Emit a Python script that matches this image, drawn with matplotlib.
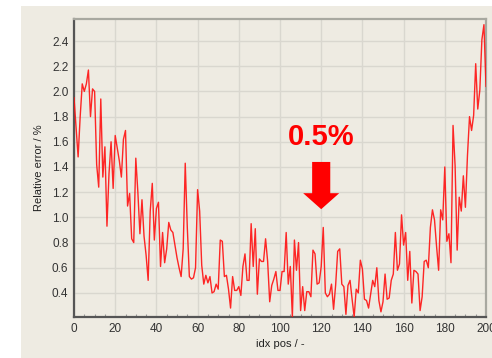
import matplotlib
matplotlib.use('Agg')
import matplotlib.pyplot as plt
from matplotlib.ticker import MultipleLocator, FormatStrFormatter
import numpy as np

XSIZE, YSIZE = 4.92, 3.58
PANEL = '#eeebe2'

# relative error per index position
err = [
    1.95, 1.72, 1.48, 1.80, 2.06, 2.00, 2.06, 2.17, 1.80, 2.02,
    2.00, 1.42, 1.24, 1.94, 1.32, 1.56, 0.93, 1.35, 1.60, 1.23,
    1.65, 1.55, 1.45, 1.32, 1.62, 1.69, 1.09, 1.19, 0.83, 0.80,
    1.47, 1.20, 0.87, 1.14, 0.85, 0.70, 0.50, 1.05, 1.27, 0.82,
    1.07, 1.12, 0.61, 0.88, 0.64, 0.75, 0.96, 0.90, 0.88, 0.78,
    0.68, 0.60, 0.53, 0.75, 1.43, 0.92, 0.53, 0.51, 0.52, 0.60,
    1.22, 1.05, 0.62, 0.47, 0.54, 0.48, 0.53, 0.40, 0.41, 0.47,
    0.43, 0.82, 0.81, 0.53, 0.54, 0.43, 0.28, 0.53, 0.42, 0.42,
    0.45, 0.38, 0.61, 0.71, 0.50, 0.50, 0.95, 0.61, 0.91, 0.39,
    0.67, 0.65, 0.65, 0.83, 0.65, 0.33, 0.46, 0.51, 0.57, 0.42,
    0.42, 0.57, 0.57, 0.88, 0.47, 0.61, 0.21, 0.82, 0.58, 0.80,
    0.26, 0.45, 0.26, 0.41, 0.41, 0.37, 0.74, 0.71, 0.47, 0.48,
    0.61, 0.92, 0.40, 0.37, 0.39, 0.47, 0.27, 0.46, 0.73, 0.75,
    0.47, 0.45, 0.23, 0.46, 0.50, 0.35, 0.21, 0.43, 0.40, 0.66,
    0.59, 0.35, 0.34, 0.28, 0.39, 0.50, 0.45, 0.60, 0.34, 0.25,
    0.33, 0.55, 0.35, 0.36, 0.50, 0.55, 0.88, 0.58, 0.63, 1.02,
    0.78, 0.88, 0.50, 0.73, 0.32, 0.58, 0.57, 0.55, 0.26, 0.37,
    0.65, 0.66, 0.60, 0.92, 1.06, 0.98, 0.77, 0.58, 1.06, 0.98,
    1.40, 0.81, 0.87, 0.64, 1.73, 1.41, 0.74, 1.16, 1.05, 1.33,
    1.08, 1.49, 1.80, 1.69, 1.81, 2.22, 1.86, 2.01, 2.41, 2.53,
    2.04,
]
idx = np.arange(len(err))

# marked position and its label
mark_idx = 120
mark_text = '0.5%'

plt.rcParams['font.family'] = ['Liberation Sans', 'DejaVu Sans']

fig = plt.figure(figsize=(XSIZE, YSIZE), dpi=100)
fig.patch.set_facecolor('white')

# beige panel behind the plot
panel = fig.add_axes([21 / 492, 0, 1 - 21 / 492, 1 - 6 / 358], zorder=-10)
panel.set_facecolor(PANEL)
panel.set_xticks([])
panel.set_yticks([])
for s in panel.spines.values():
    s.set_visible(False)

ax = fig.add_axes([74 / 492, 1 - 317 / 358, 412 / 492, 298 / 358])
ax.set_facecolor(PANEL)

ax.plot(idx, err, color='#ff1010', lw=1.0, alpha=0.9, zorder=3)

ax.set_xlim(0, 200)
ax.set_ylim(0.209, 2.575)
ax.xaxis.set_major_locator(MultipleLocator(20))
ax.xaxis.set_minor_locator(MultipleLocator(5))
ax.set_yticks(np.arange(0.4, 2.41, 0.2))
ax.yaxis.set_major_formatter(FormatStrFormatter('%.1f'))

ax.grid(which='major', color='#d9d7cf', lw=1.0)
ax.set_axisbelow(True)
ax.tick_params(which='major', length=0, labelsize=8.5, labelcolor='#333333', pad=4)
ax.tick_params(axis='x', which='minor', direction='in', length=2,
               color='#999999', width=0.8)
ax.tick_params(axis='y', which='minor', length=0)

for side in ('left', 'bottom'):
    ax.spines[side].set_color('#555555')
    ax.spines[side].set_linewidth(1.6)
for side in ('top', 'right'):
    ax.spines[side].set_color('#a8a8a0')
    ax.spines[side].set_linewidth(1.6)

ax.set_ylabel('Relative error / %', fontsize=8, color='#222222', labelpad=6)
ax.set_xlabel('idx pos / -', fontsize=8, color='#222222', labelpad=3)

# callout: label and block arrow pointing down at the marked index
ax.text(mark_idx, 1.64, mark_text, color='red', fontsize=21,
        fontweight='bold', ha='center', va='center', zorder=5)
ax.arrow(mark_idx, 1.44, 0, 1.065 - 1.44, width=8.8, head_width=17.5,
         head_length=0.127, length_includes_head=True,
         color='red', lw=0, zorder=5)

fig.savefig('out.png', dpi=100, facecolor=fig.get_facecolor())
plt.close(fig)
